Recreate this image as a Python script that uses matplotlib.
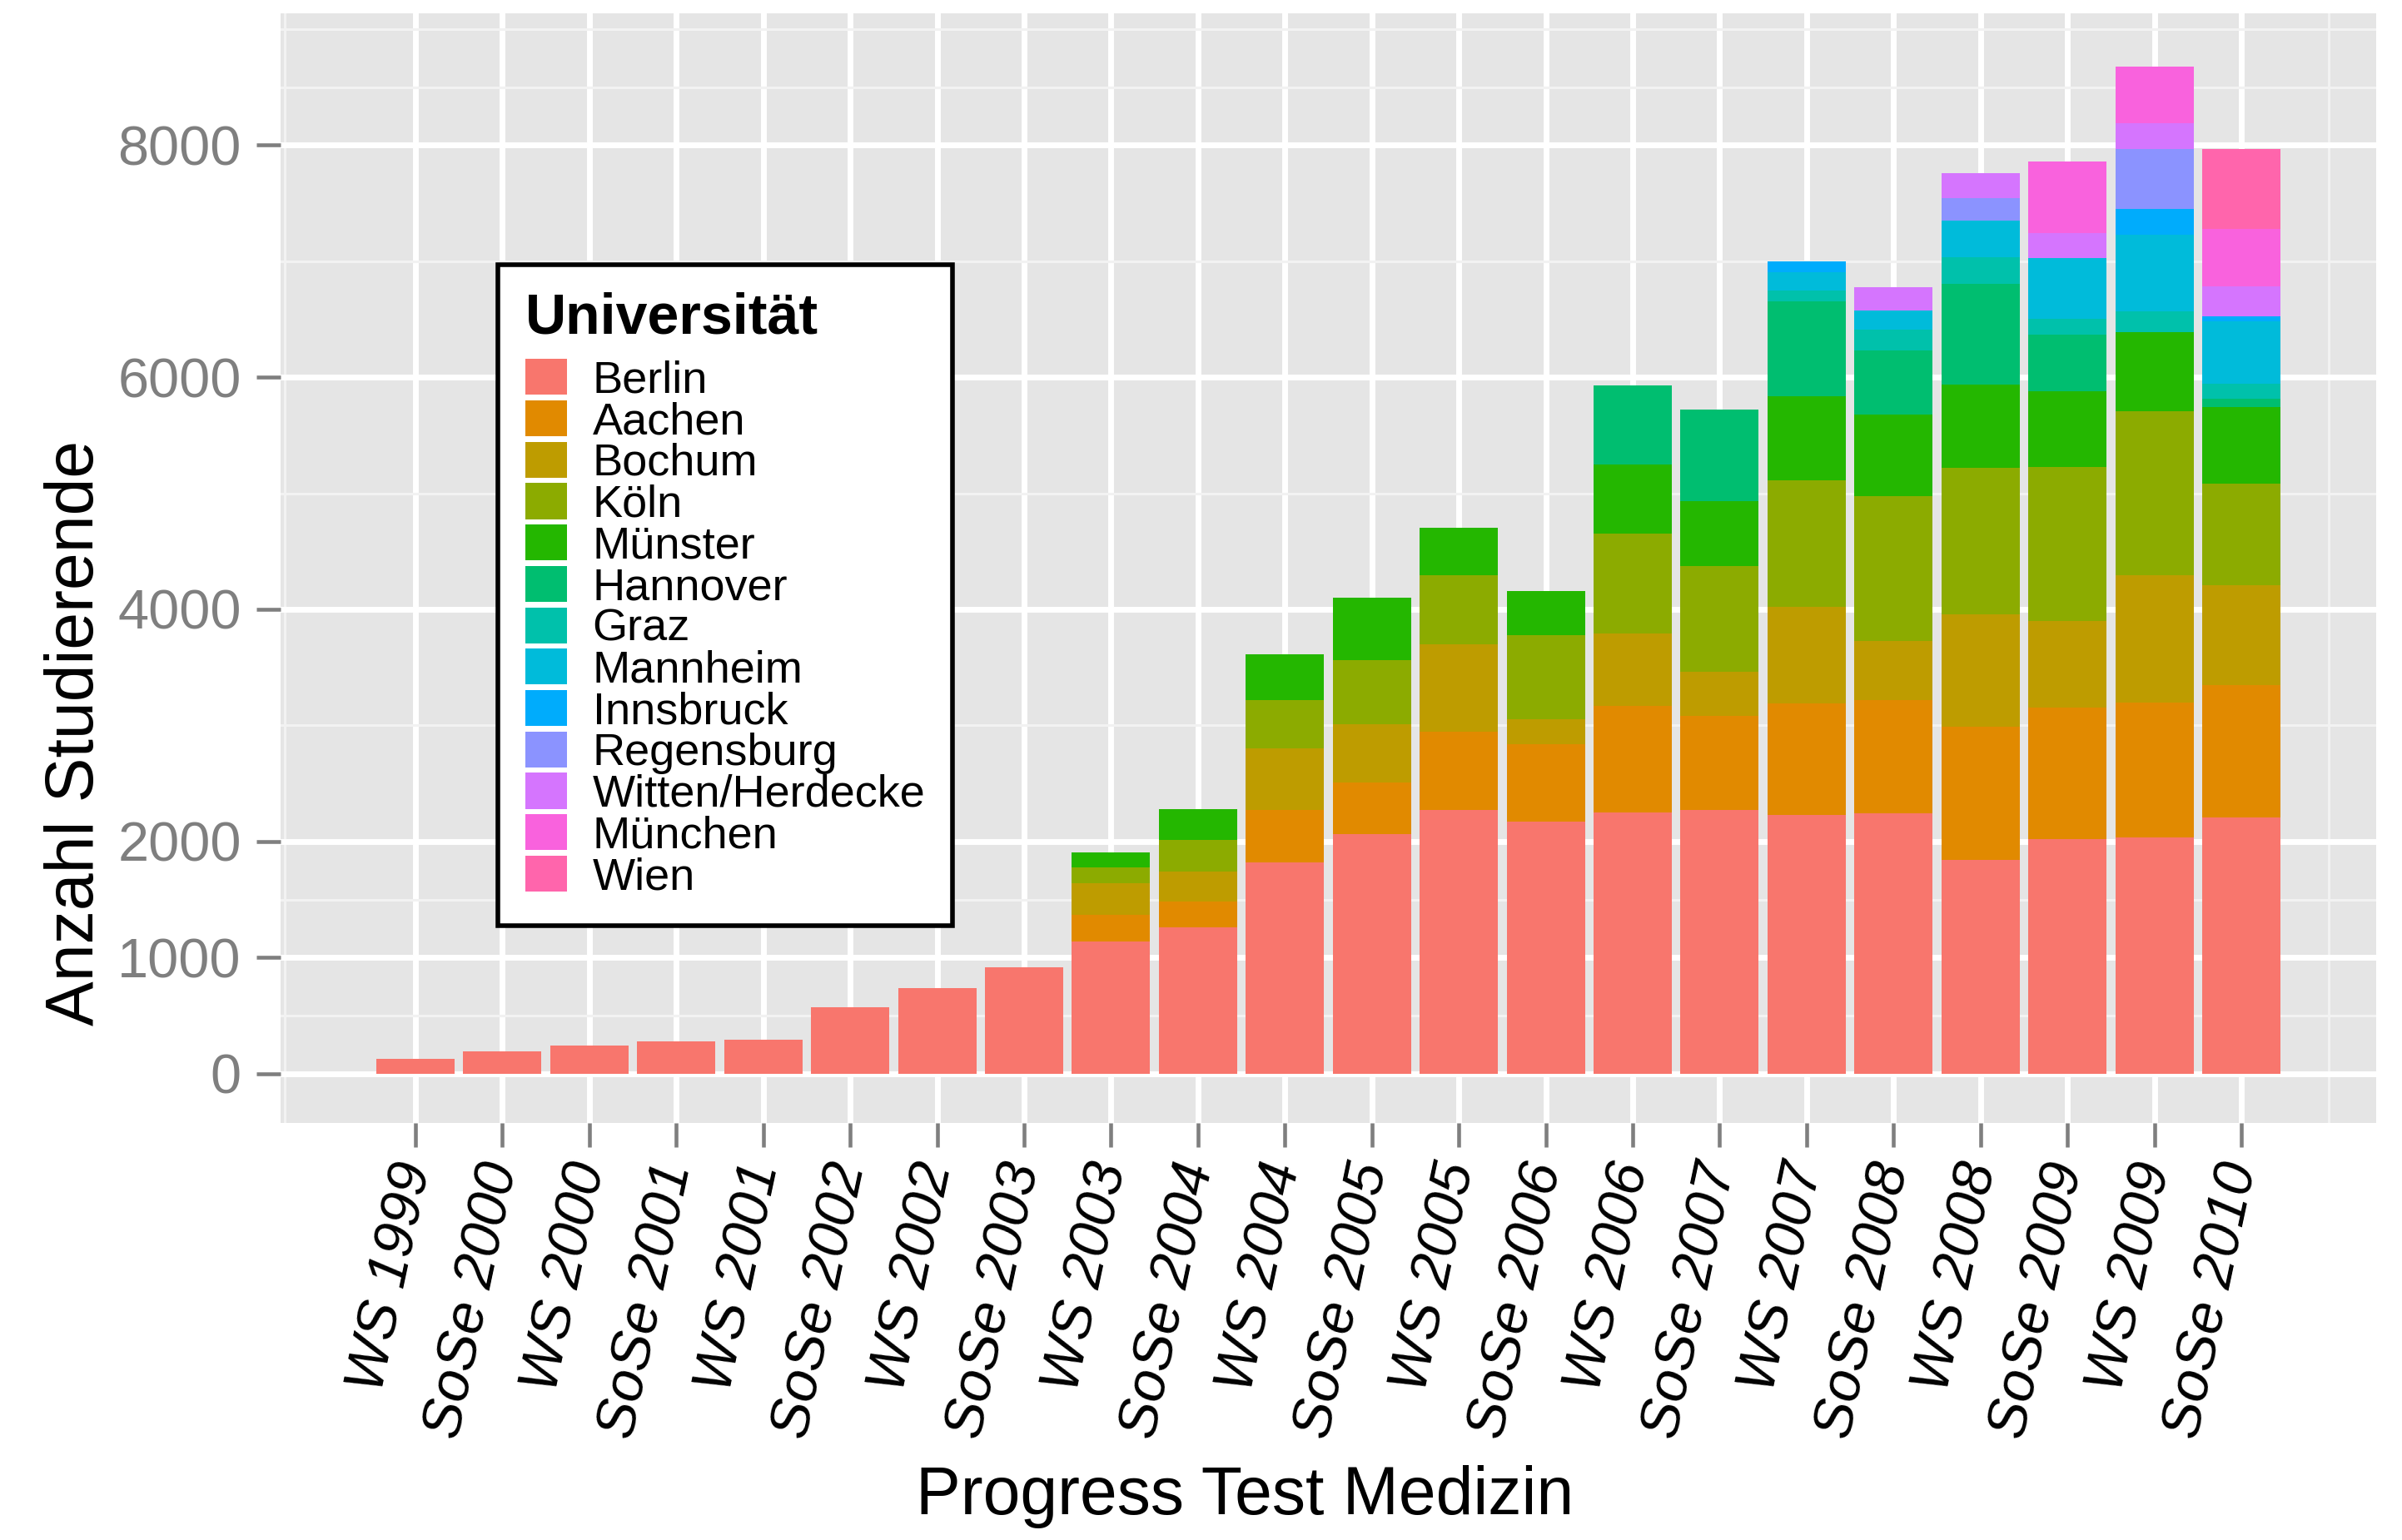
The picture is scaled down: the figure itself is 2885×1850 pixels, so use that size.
import numpy as np
import matplotlib
matplotlib.use("Agg")
import matplotlib.pyplot as plt
from matplotlib.transforms import ScaledTranslation

plt.rcParams["font.family"] = ["Liberation Sans", "DejaVu Sans"]

# -------------------------------
# DATA (students per university and semester)
# -------------------------------

semesters = ["WS 1999", "SoSe 2000", "WS 2000", "SoSe 2001", "WS 2001",
             "SoSe 2002", "WS 2002", "SoSe 2003", "WS 2003", "SoSe 2004",
             "WS 2004", "SoSe 2005", "WS 2005", "SoSe 2006", "WS 2006",
             "SoSe 2007", "WS 2007", "SoSe 2008", "WS 2008", "SoSe 2009",
             "WS 2009", "SoSe 2010"]

universities = ["Berlin", "Aachen", "Bochum", "Köln", "Münster", "Hannover",
                "Graz", "Mannheim", "Innsbruck", "Regensburg",
                "Witten/Herdecke", "München", "Wien"]

berlin = [125, 190, 245, 280, 290, 570, 740, 915, 1140, 1260, 1820, 2065,
          2270, 2170, 2250, 2275, 2230, 2240, 1840, 2020, 2035, 2205]
aachen = [0] * 8 + [225, 220, 450, 440, 675, 665, 915, 805, 960, 980, 1150,
                    1135, 1165, 1145]
bochum = [0] * 8 + [275, 260, 530, 505, 755, 220, 625, 380, 830, 510, 965,
                    745, 1095, 860]
koeln = [0] * 8 + [140, 275, 420, 555, 595, 720, 865, 915, 1090, 1245, 1265,
                   1325, 1410, 875]
muenster = [0] * 8 + [125, 265, 395, 535, 410, 380, 595, 560, 725, 705, 715,
                      655, 685, 660]
hannover = [0] * 14 + [680, 785, 815, 550, 870, 485, 0, 70]
graz = [0] * 16 + [100, 180, 230, 140, 175, 125]
mannheim = [0] * 16 + [155, 165, 315, 520, 665, 540]
innsbruck = [0] * 16 + [95, 0, 0, 0, 220, 45]
regensburg = [0] * 18 + [190, 0, 515, 0]
witten = [0] * 17 + [200, 215, 220, 225, 260]
muenchen = [0] * 19 + [610, 485, 495]
wien = [0] * 21 + [685]

series = [berlin, aachen, bochum, koeln, muenster, hannover, graz, mannheim,
          innsbruck, regensburg, witten, muenchen, wien]

# ggplot2 default hue palette for 13 levels
colors = ["#F8766D", "#E18A00", "#BE9C00", "#8CAB00", "#24B700", "#00BE70",
          "#00C1AB", "#00BBDA", "#00ACFC", "#8B93FF", "#D575FE", "#F962DD",
          "#FF65AC"]

y_major = [0, 1000, 2000, 4000, 6000, 8000]
y_minor = [500, 1500, 3000, 5000, 7000, 8500, 9000]

# -------------------------------
# PLOT
# -------------------------------

W, H = 2885, 1850
fig = plt.figure(figsize=(W / 100, H / 100), dpi=100)
ax = fig.add_axes([337 / W, 1 - 1349 / H, (2854 - 337) / W, (1349 - 16) / H])
ax.set_facecolor("#E5E5E5")

x = np.arange(len(semesters))
bottom = np.zeros(len(semesters))
handles = []
for name, vals, col in zip(universities, series, colors):
    vals = np.array(vals, dtype=float)
    b = ax.bar(x, vals, width=0.9, bottom=bottom, color=col, label=name,
               linewidth=0)
    handles.append(b)
    bottom += vals

ax.set_xlim(-1.55, 22.55)
ax.set_ylim(-425, 9135)

ax.set_xticks(x)
ax.set_xticks([-1.5, 22], minor=True)
ax.set_yticks(y_major)
ax.set_yticks(y_minor, minor=True)
ax.set_yticklabels([str(v) for v in y_major], fontsize=48, color="#7F7F7F")
ax.set_xticklabels(semesters, fontsize=49, style="italic", color="black",
                   rotation=78, ha="right", va="center",
                   rotation_mode="anchor")

# nudge rotated labels a bit to the right, like the original
shift = ScaledTranslation(0.17, 0, fig.dpi_scale_trans)
for lab in ax.get_xticklabels():
    lab.set_transform(lab.get_transform() + shift)

ax.tick_params(which="major", length=21, width=3.3, color="#7F7F7F")
ax.tick_params(axis="y", which="major", pad=13)
ax.tick_params(axis="x", which="major", pad=14)
ax.tick_params(which="minor", length=0)

ax.set_axisbelow(True)
ax.grid(which="major", color="white", linewidth=5)
ax.grid(which="minor", color="#F2F2F2", linewidth=2.2)
for sp in ax.spines.values():
    sp.set_visible(False)

fig.text(1495 / W, 1 - 1798 / H, "Progress Test Medizin", fontsize=58,
         ha="center", va="center")
fig.text(91 / W, 1 - 880 / H, "Anzahl Studierende", fontsize=58,
         ha="center", va="center", rotation=90)

leg = ax.legend(handles=handles, loc="upper left",
                bbox_to_anchor=(598 / W, 1 - 318 / H),
                bbox_transform=fig.transFigure,
                title="Universität", fontsize=39,
                title_fontproperties={"size": 49, "weight": "bold"},
                alignment="left", frameon=True, fancybox=False,
                edgecolor="black", facecolor="white", framealpha=1,
                handlelength=0.93, handleheight=0.85, handletextpad=0.57,
                labelspacing=-0.03, borderpad=0.6, borderaxespad=0)
leg.get_frame().set_linewidth(4)
# a bit more room between title and keys
leg._legend_box.sep = 12

fig.savefig("out.png", dpi=100)
